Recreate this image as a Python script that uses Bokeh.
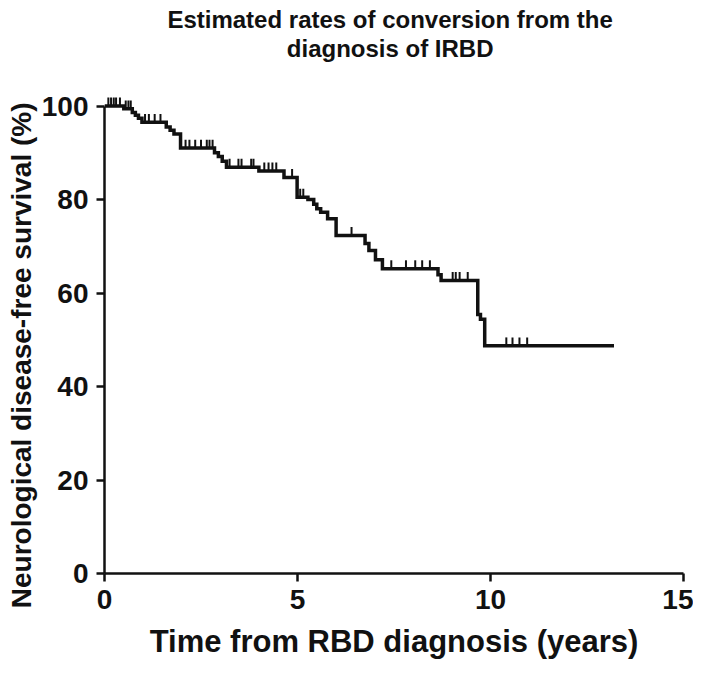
from bokeh.plotting import figure
from bokeh.models import FixedTicker, Range1d, Title
from bokeh.core.properties import value
from bokeh.embed import file_html
from bokeh.resources import INLINE

# Kaplan-Meier step data: time of each drop (years) and survival (%) after it
event_times = [0.50, 0.72, 0.80, 0.88, 0.97, 1.60, 1.70, 1.80, 1.97, 2.85, 2.95, 3.05,
               3.16, 4.00, 4.65, 4.99, 5.27, 5.42, 5.50, 5.60, 5.78, 6.00, 6.75, 6.85,
               7.02, 7.20, 8.64, 8.72, 9.67, 9.74, 9.85]
event_surv = [99.4, 98.6, 98.0, 97.4, 96.5, 95.5, 94.8, 94.0, 91.0, 90.0, 89.2, 88.2,
              86.9, 86.1, 84.7, 80.5, 80.0, 79.0, 78.0, 77.3, 75.9, 72.3, 70.6, 69.1,
              67.1, 65.2, 63.9, 62.7, 55.4, 54.4, 48.7]
end_time = 13.2

censor_times = [0.10, 0.17, 0.24, 0.30, 0.40, 0.55, 0.62, 0.68, 1.05, 1.15, 1.30, 1.45,
                2.10, 2.20, 2.35, 2.50, 2.65, 2.72, 2.80, 3.24, 3.47, 3.55, 3.80, 3.86,
                4.14, 4.25, 4.35, 4.45, 4.86, 5.07, 5.15, 6.40, 7.43, 7.81, 8.05, 8.23,
                8.43, 9.02, 9.10, 9.20, 9.41, 10.41, 10.57, 10.75, 10.95]

x_ticks = [0, 5, 10, 15]
y_ticks = [0, 20, 40, 60, 80, 100]

title_lines = ["Estimated rates of conversion from the", "diagnosis of IRBD"]
x_label = "Time from RBD diagnosis (years)"
y_label = "Neurological disease-free survival (%)"

# build step path
xs = [0.0]
ys = [100.0]
cur = 100.0
for t, s in zip(event_times, event_surv):
    xs += [t, t]
    ys += [cur, s]
    cur = s
xs.append(end_time)
ys.append(cur)

def surv_at(t):
    v = 100.0
    for et, es in zip(event_times, event_surv):
        if et <= t:
            v = es
    return v

cen_y = [surv_at(t) for t in censor_times]
cen_y1 = [v + 1.8 for v in cen_y]

FONT = "Liberation Sans"
INK = "#111111"

# frame extends to the top of the canvas so the two-line title can sit in it
p = figure(width=693, height=661, output_backend="svg", toolbar_location=None,
           x_range=Range1d(0, 15), y_range=Range1d(0, 121.5), title=None,
           min_border_left=104, min_border_right=10, min_border_top=5,
           min_border_bottom=60)

p.text(x=[7.4, 7.4], y=[118.6, 112.2], text=title_lines,
       text_align="center", text_baseline="middle",
       text_font=value(FONT), text_font_size="24px", text_font_style="bold",
       text_color=INK)

p.line(xs, ys, line_color=INK, line_width=3.5, line_join="miter")
p.segment(x0=censor_times, y0=cen_y, x1=censor_times, y1=cen_y1,
          line_color=INK, line_width=2)

p.xgrid.visible = False
p.ygrid.visible = False
p.outline_line_color = None

for ax in (p.xaxis[0], p.yaxis[0]):
    ax.axis_line_width = 2.5
    ax.axis_line_color = INK
    ax.major_tick_line_width = 2.5
    ax.major_tick_line_color = INK
    ax.major_tick_out = 8
    ax.major_tick_in = 0
    ax.minor_tick_line_color = None
    ax.major_label_text_font = FONT
    ax.major_label_text_font_size = "28px"
    ax.major_label_text_font_style = "bold"
    ax.major_label_text_color = INK
    ax.axis_label_text_font = FONT
    ax.axis_label_text_font_style = "bold"
    ax.axis_label_text_color = INK

p.xaxis[0].ticker = FixedTicker(ticks=x_ticks)
p.yaxis[0].ticker = FixedTicker(ticks=y_ticks)
p.yaxis[0].bounds = (0, 100)
p.xaxis[0].bounds = (0, 15)
p.xaxis[0].axis_label = x_label
p.xaxis[0].axis_label_text_font_size = "31px"
p.xaxis[0].axis_label_text_line_height = 0.9
p.xaxis[0].major_label_text_line_height = 0.9
p.xaxis[0].major_label_standoff = 8
p.yaxis[0].major_label_standoff = 8
p.xaxis[0].axis_label_standoff = 12

# y-axis title placed in the left panel, aligned to the plotted 0-100 span
ytitle = Title(text=y_label, align="right", offset=97, standoff=4,
               text_font=FONT, text_font_size="28px", text_font_style="bold",
               text_color=INK)
p.add_layout(ytitle, "left")

open("out.html", "w").write(file_html(p, INLINE))
